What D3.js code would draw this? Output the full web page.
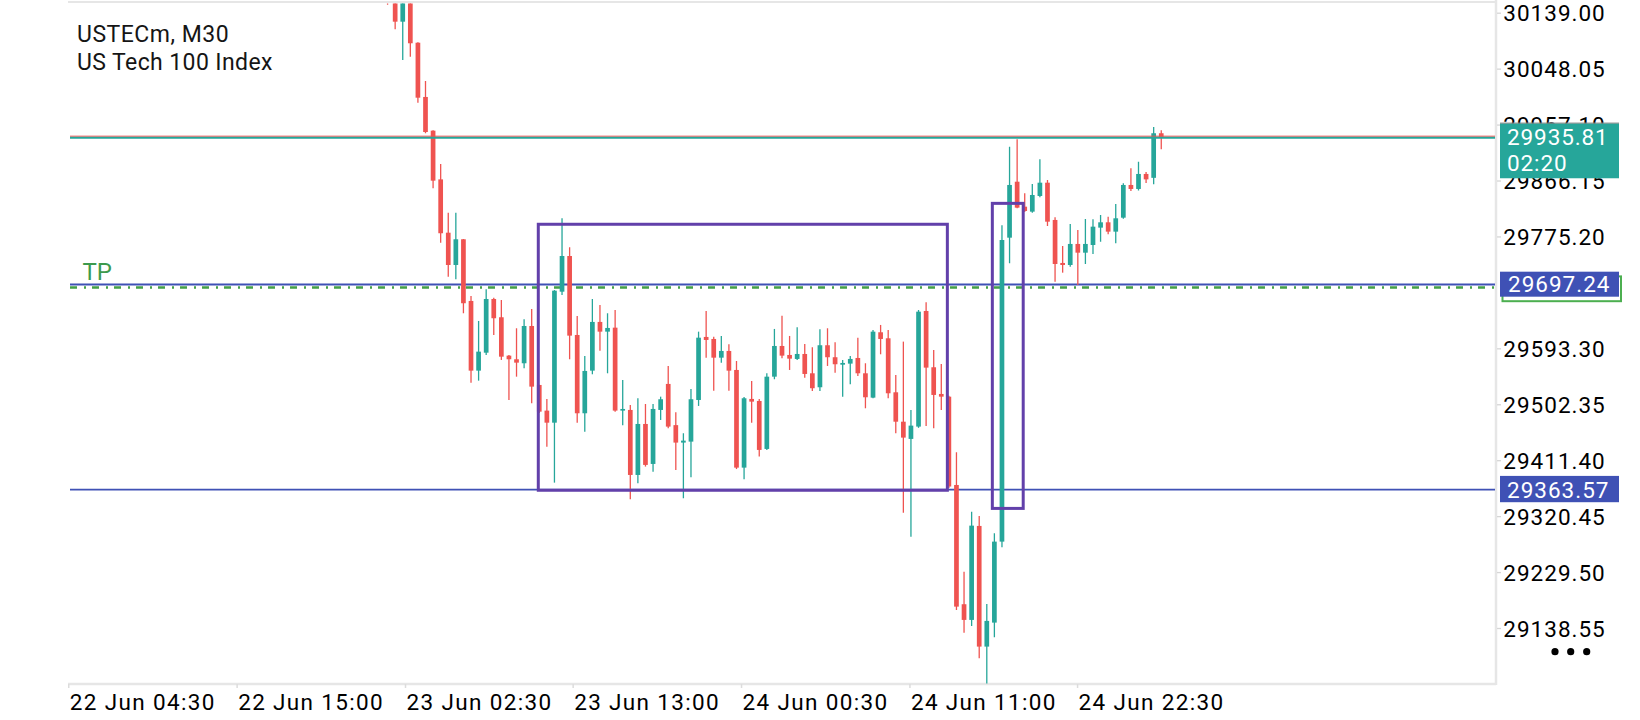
<!DOCTYPE html>
<html><head><meta charset="utf-8">
<script src="https://cdn.jsdelivr.net/npm/d3@7"></script>
<style>
html,body{margin:0;padding:0;background:#fff;overflow:hidden}
svg{display:block}
text{font-family:Roboto,"Noto Sans",sans-serif}
</style>
</head><body>
<svg id="chart" width="1640" height="720"></svg>
<script>
// ---------- data ----------
const symbolTitle = "USTECm, M30";
const symbolName = "US Tech 100 Index";
const firstBar = 42; // bar index of the first candle in the arrays
const opens  = [30200,30178,30124.4,30160,30090.2,30002,29947.2,29868,29781.3,29728.8,29770.6,29670.3,29557,29586.2,29673.5,29643.8,29581.4,29575.5,29569,29629.6,29533.7,29492,29472.4,29685.4,29743.4,29615,29487.7,29557,29636.2,29620.4,29626.9,29492,29493.1,29387.4,29470.3,29405.3,29493.1,29535.4,29468.4,29440,29441.6,29509.3,29611.8,29608.5,29578.1,29589,29558.1,29399.3,29511,29507.7,29429.7,29547.2,29597.1,29582.5,29576,29584.1,29552.7,29530,29598.3,29578.8,29566.7,29568.4,29577.6,29552.7,29513.1,29619.4,29609.6,29521.8,29474,29446,29466,29654,29562.5,29519.1,29514.7,29371.1,29177.2,29151.7,29304.5,29108.3,29147.3,29279,29773.2,29864.2,29823.6,29815.5,29841,29862.6,29802,29732.1,29728.8,29763,29748.8,29761.3,29789.5,29798.2,29783,29805.7,29858.9,29852.4,29876.8,29870.5,29943];
const highs  = [30210,30185,30170,30168,30091,30028,29948,29893,29813.8,29813.8,29771,29678.4,29637.8,29689.3,29675.7,29671.9,29582.5,29625.9,29640.5,29657.3,29534,29511,29688,29804.7,29757.6,29645.9,29580.9,29673.5,29663.8,29650.3,29655.6,29541.9,29501.2,29512.1,29502.8,29502.8,29514.7,29564.7,29489.4,29455.2,29527.3,29620.4,29654,29612.3,29613.4,29599.9,29572.7,29514,29540.3,29511,29552.7,29624.8,29646.4,29613.4,29627.5,29600.4,29595,29624.3,29625.9,29603.2,29574.4,29580.9,29610.6,29569,29623.1,29631.3,29623.1,29550,29604.2,29493.1,29655.6,29668.2,29590.6,29567.9,29516,29424.3,29230.2,29327.7,29320.7,29177.7,29292.6,29793.5,29921.2,29933.2,29845.4,29860.5,29900.7,29867,29806.4,29759.7,29795.5,29785.7,29803.6,29803,29810.1,29807.3,29828,29861.6,29886,29896.8,29880,29953,29948];
const lows   = [30152,30112,30062,30067.5,29992.7,29943,29853.5,29765,29709.8,29705.6,29650.3,29537.5,29540.7,29582.5,29615,29574.4,29509.3,29547.2,29560.9,29504,29488,29433.4,29374.9,29680,29575.5,29472.4,29457.8,29551.1,29589.5,29552.7,29490,29468.4,29347.9,29373.9,29401,29392.8,29476.8,29463.4,29395.5,29349.5,29383.7,29499.6,29578.1,29524.5,29570,29524.5,29397,29380.4,29472.4,29417.2,29428,29543,29577.1,29558.1,29574.4,29545.6,29524,29524,29564.6,29553.7,29514.7,29534.9,29548.4,29495.8,29512.1,29583.6,29512.1,29455.2,29326.1,29287.1,29464,29467.1,29463.3,29493.1,29366,29167.9,29131,29141.9,29089.4,29047.3,29123.6,29270,29731.6,29821,29815,29813.9,29839,29792.2,29701.7,29716.3,29726,29696.3,29730.4,29746.7,29766.7,29778.7,29764.1,29804,29849.1,29850,29862,29860,29917];
const closes = [30178,30124.4,30160,30089.3,30000.8,29945,29865.9,29780.4,29728.8,29770.6,29666.6,29557,29587.9,29673.5,29642.2,29579.7,29575.5,29570,29629.6,29531,29490.3,29472.4,29687,29743.4,29613.9,29487.7,29556.5,29636.2,29620.4,29626.4,29492,29494.7,29387.4,29470.3,29403.7,29494.7,29510.5,29466,29440,29443.2,29510.5,29610.6,29606.9,29578.1,29589,29557,29399.3,29512.1,29506.6,29428.1,29547.2,29597.1,29581.4,29576.5,29584.1,29551.6,29528.4,29598.3,29578.8,29567.4,29569.5,29576,29552.7,29513.7,29620.4,29608.5,29520.2,29474,29448.1,29467.6,29652.9,29561.9,29517.5,29514.7,29368.6,29173.3,29151.7,29305,29108.3,29150.1,29279,29769.4,29858.9,29822,29816.6,29842.6,29862.6,29799.2,29730.4,29728.8,29763,29748.8,29763,29791.1,29798.2,29783,29804.7,29858.9,29852.4,29876.8,29868,29943,29935.81];

const priceTicks = [30139.00,30048.05,29957.10,29866.15,29775.20,29593.30,29502.35,29411.40,29320.45,29229.50,29138.55];
const timeTickBars = [-0.1,22.1,44.3,66.4,88.6,110.8,132.9];
const timeLabels = ["22 Jun 04:30","22 Jun 15:00","23 Jun 02:30","23 Jun 13:00","24 Jun 00:30","24 Jun 11:00","24 Jun 22:30"];

const lastPrice = 29935.81;
const askPrice = 29938.3;
const countdown = "02:20";
const orderLevel = 29697.24;
const tpLevel = 29692.0;
const supportLevel = 29363.57;

const boxStartBars = [61.87,121.73];
const boxEndBars   = [115.8,125.8];
const boxTops      = [29795,29829];
const boxBottoms   = [29362.5,29333];

// ---------- layout ----------
const L = 68, R = 1496, T = 2, B = 684;
const colUp = "#26A69A", colDown = "#EF5350", colBlue = "#3F51B5", colPurple = "#6240AA", colGreen = "#43A047";

const svg = d3.select("#chart");
const x = d3.scaleLinear().domain([0,141]).range([69,1138.5]);
const y = d3.scaleLinear().domain([29138.55,30139.00]).range([628.0,12.7]);

// frame lines
svg.append("line").attr("x1",L).attr("x2",R+1).attr("y1",T).attr("y2",T).attr("stroke","#e6e6e6").attr("stroke-width",2);
svg.append("line").attr("x1",R).attr("x2",R).attr("y1",0).attr("y2",B+1).attr("stroke","#e6e6e6").attr("stroke-width",2.5);
svg.append("line").attr("x1",L).attr("x2",R).attr("y1",B).attr("y2",B).attr("stroke","#e6e6e6").attr("stroke-width",2.5);

// title
svg.append("text").attr("x",77).attr("y",41.7).attr("font-size",23).attr("letter-spacing",0.5).attr("fill","#151515").text(symbolTitle);
svg.append("text").attr("x",77).attr("y",69.5).attr("font-size",23).attr("letter-spacing",0.4).attr("fill","#151515").text(symbolName);

// clip for plot
svg.append("clipPath").attr("id","plotclip").append("rect").attr("x",L).attr("y",T+1.5).attr("width",R-L-1).attr("height",B-T-2);
const plot = svg.append("g").attr("clip-path","url(#plotclip)");

// horizontal levels
plot.append("line").attr("x1",L+2).attr("x2",R).attr("y1",y(orderLevel)).attr("y2",y(orderLevel)).attr("stroke",colBlue).attr("stroke-width",2);
plot.append("line").attr("x1",L+2).attr("x2",R).attr("y1",y(tpLevel)).attr("y2",y(tpLevel)).attr("stroke",colGreen).attr("stroke-width",2.5).attr("stroke-dasharray","7,7,2,6");
plot.append("line").attr("x1",L+2).attr("x2",R).attr("y1",y(supportLevel)).attr("y2",y(supportLevel)).attr("stroke",colBlue).attr("stroke-width",1.8);

svg.append("text").attr("x",82.5).attr("y",280).attr("font-size",24).attr("fill","#3d9a4d").text("TP");

// candles
const bars = opens.map((o,i)=>({i:firstBar+i,o,h:highs[i],l:lows[i],c:closes[i]}));
const cg = plot.append("g");
cg.selectAll("line.w").data(bars).join("line")
  .attr("x1",d=>x(d.i)).attr("x2",d=>x(d.i))
  .attr("y1",d=>y(d.h)).attr("y2",d=>y(d.l))
  .attr("stroke",d=>d.c>=d.o?colUp:colDown).attr("stroke-width",1.3);
cg.selectAll("rect.b").data(bars).join("rect")
  .attr("x",d=>x(d.i)-2.35).attr("width",4.7)
  .attr("y",d=>y(Math.max(d.o,d.c)))
  .attr("height",d=>Math.max(1.6,Math.abs(y(d.o)-y(d.c))))
  .attr("fill",d=>d.c>=d.o?colUp:colDown);

// range boxes
plot.selectAll("rect.box").data(boxStartBars).join("rect")
  .attr("x",(d,i)=>x(d)).attr("width",(d,i)=>x(boxEndBars[i])-x(d))
  .attr("y",(d,i)=>y(boxTops[i])).attr("height",(d,i)=>y(boxBottoms[i])-y(boxTops[i]))
  .attr("fill","none").attr("stroke",colPurple).attr("stroke-width",3);

// last price lines
plot.append("line").attr("x1",L+2).attr("x2",R).attr("y1",y(lastPrice)).attr("y2",y(lastPrice)).attr("stroke",colUp).attr("stroke-width",2.2);
plot.append("line").attr("x1",L+2).attr("x2",R).attr("y1",y(askPrice)).attr("y2",y(askPrice)).attr("stroke",colDown).attr("stroke-width",0.9);

// y axis
const yAxis = d3.axisRight(y).tickValues(priceTicks).tickSize(4).tickPadding(3).tickFormat(d=>d.toFixed(2));
const yg = svg.append("g").attr("transform",`translate(${R+1},0)`).call(yAxis);
yg.select(".domain").remove();
yg.selectAll(".tick line").attr("stroke","#d6d6d6").attr("stroke-width",1.3);
yg.selectAll(".tick text").attr("x",6.3).attr("dy","0.355em").attr("font-size",22.5).attr("letter-spacing",1)
  .attr("fill","#000").attr("font-family","Roboto,'Noto Sans',sans-serif");

// x axis
const xAxis = d3.axisBottom(x).tickValues(timeTickBars).tickSize(4).tickFormat((d,i)=>timeLabels[i]);
const xg = svg.append("g").attr("transform",`translate(0,${B})`).call(xAxis);
xg.select(".domain").remove();
xg.selectAll(".tick line").attr("stroke","#dcdcdc").attr("stroke-width",1.5);
xg.selectAll(".tick text").attr("text-anchor","start").attr("x",1).attr("y",26).attr("dy",0)
  .attr("font-size",22.5).attr("letter-spacing",1.35).attr("fill","#000").attr("font-family","Roboto,'Noto Sans',sans-serif");

// right price labels
const lx = 1500, lw = 119;
// last price (teal)
svg.append("rect").attr("x",lx).attr("y",y(lastPrice)-14.4).attr("width",lw).attr("height",55).attr("fill",colUp);
svg.append("line").attr("x1",lx).attr("x2",lx+lw).attr("y1",y(lastPrice)-14.6).attr("y2",y(lastPrice)-14.6).attr("stroke","#8a8a8a").attr("stroke-width",1);
svg.append("text").attr("x",1507).attr("y",y(lastPrice)-1).attr("dy","0.355em").attr("font-size",22.5).attr("letter-spacing",0.9).attr("fill","#fff").text(lastPrice.toFixed(2));
svg.append("text").attr("x",1507).attr("y",y(lastPrice)+25.6).attr("dy","0.355em").attr("font-size",22.5).attr("letter-spacing",0.9).attr("fill","#fff").text(countdown);

// TP marker box (white with green border) behind order label
svg.append("rect").attr("x",1502.5).attr("y",y(orderLevel)-8).attr("width",118.5).attr("height",24.8).attr("fill","#fff").attr("stroke","#4CAF50").attr("stroke-width",2);
svg.append("rect").attr("x",lx).attr("y",y(orderLevel)-12.7).attr("width",lw).attr("height",25).attr("fill",colBlue);
svg.append("text").attr("x",1508).attr("y",y(orderLevel)).attr("dy","0.355em").attr("font-size",22.5).attr("letter-spacing",1).attr("fill","#fff").text(orderLevel.toFixed(2));

svg.append("rect").attr("x",lx).attr("y",y(supportLevel)-13.7).attr("width",lw).attr("height",26.3).attr("fill",colBlue);
svg.append("text").attr("x",1507).attr("y",y(supportLevel)).attr("dy","0.355em").attr("font-size",22.5).attr("letter-spacing",1).attr("fill","#fff").text(supportLevel.toFixed(2));

// menu dots
const dotX = [1555,1570.7,1586.7];
svg.selectAll("circle.dot").data(dotX).join("circle").attr("cx",d=>d).attr("cy",651.7).attr("r",3.6).attr("fill","#000");
</script>
</body></html>
